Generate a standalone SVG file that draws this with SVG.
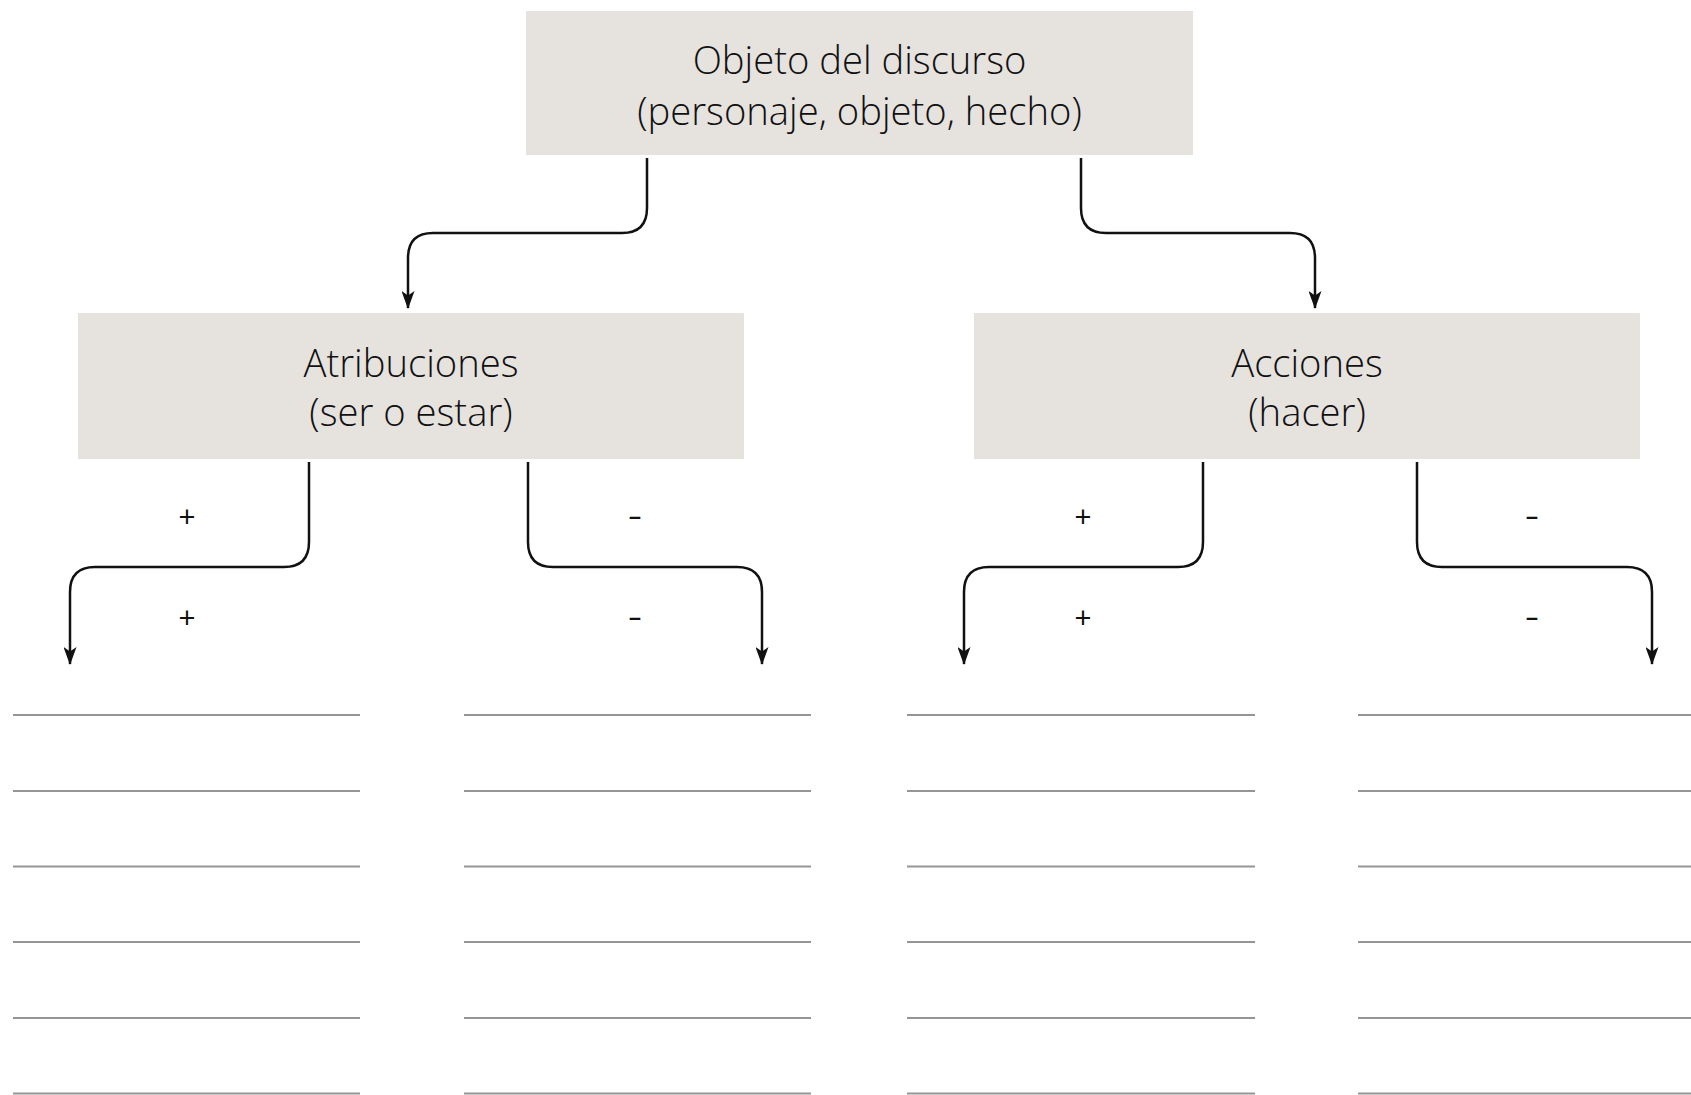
<svg xmlns="http://www.w3.org/2000/svg" width="1691" height="1095" viewBox="0 0 1691 1095">
<style>
.box{fill:#e6e2de}
.t{font-family:"Open Sans","Noto Sans","Liberation Sans",sans-serif;font-weight:350;font-size:38.2px;fill:#111;text-anchor:middle}
.s{font-family:"Liberation Sans","DejaVu Sans",sans-serif;font-size:29px;fill:#111;text-anchor:middle}
.c{fill:none;stroke:#111;stroke-width:2.5}
.l{stroke:#959595;stroke-width:2.2}
</style>
<defs>
<marker id="ah" viewBox="0 0 18 13" refX="17" refY="6.5" markerWidth="18" markerHeight="13" markerUnits="userSpaceOnUse" orient="auto">
<path d="M0,0 L18,6.5 L0,13 L4.5,6.5 Z" fill="#111"/>
</marker>
</defs>
<rect width="1691" height="1095" fill="#fff"/>
<g id="node-objeto">
<rect class="box" x="526" y="11" width="667" height="144"/>
<text class="t" x="859.5" y="74">Objeto del discurso</text>
<text class="t" x="859.5" y="125">(personaje, objeto, hecho)</text>
</g>
<g id="node-atribuciones">
<rect class="box" x="78" y="313" width="666" height="146"/>
<text class="t" x="411" y="377">Atribuciones</text>
<text class="t" x="411" y="426">(ser o estar)</text>
</g>
<g id="node-acciones">
<rect class="box" x="974" y="313" width="666" height="146"/>
<text class="t" x="1307" y="377">Acciones</text>
<text class="t" x="1307" y="426">(hacer)</text>
</g>
<g id="connectors">
<path class="c" marker-end="url(#ah)" d="M647,158 V208 Q647,233 622,233 H433 Q408,233 408,258 V308"/>
<path class="c" marker-end="url(#ah)" d="M1081,158 V208 Q1081,233 1106,233 H1290 Q1315,233 1315,258 V308"/>
<path class="c" marker-end="url(#ah)" d="M309,462 V542 Q309,567 284,567 H95 Q70,567 70,592 V664"/>
<path class="c" marker-end="url(#ah)" d="M528,462 V542 Q528,567 553,567 H737 Q762,567 762,592 V664"/>
<path class="c" marker-end="url(#ah)" d="M1203,462 V542 Q1203,567 1178,567 H989 Q964,567 964,592 V664"/>
<path class="c" marker-end="url(#ah)" d="M1417,462 V542 Q1417,567 1442,567 H1627 Q1652,567 1652,592 V664"/>
</g>
<g id="labels">
<text class="s" x="187" y="527">+</text>
<text class="s" x="187" y="628">+</text>
<text class="s" x="1083" y="527">+</text>
<text class="s" x="1083" y="628">+</text>
<text class="s" transform="translate(635,526) scale(1.5,1)">-</text>
<text class="s" transform="translate(635,627) scale(1.5,1)">-</text>
<text class="s" transform="translate(1532,526) scale(1.5,1)">-</text>
<text class="s" transform="translate(1532,627) scale(1.5,1)">-</text>
</g>
<g id="answer-lines">
<path class="l" d="M13,715 H360 M13,791 H360 M13,866.5 H360 M13,942 H360 M13,1018 H360 M13,1093.5 H360"/>
<path class="l" d="M464,715 H811 M464,791 H811 M464,866.5 H811 M464,942 H811 M464,1018 H811 M464,1093.5 H811"/>
<path class="l" d="M907,715 H1255 M907,791 H1255 M907,866.5 H1255 M907,942 H1255 M907,1018 H1255 M907,1093.5 H1255"/>
<path class="l" d="M1358,715 H1691 M1358,791 H1691 M1358,866.5 H1691 M1358,942 H1691 M1358,1018 H1691 M1358,1093.5 H1691"/>
</g>
</svg>
